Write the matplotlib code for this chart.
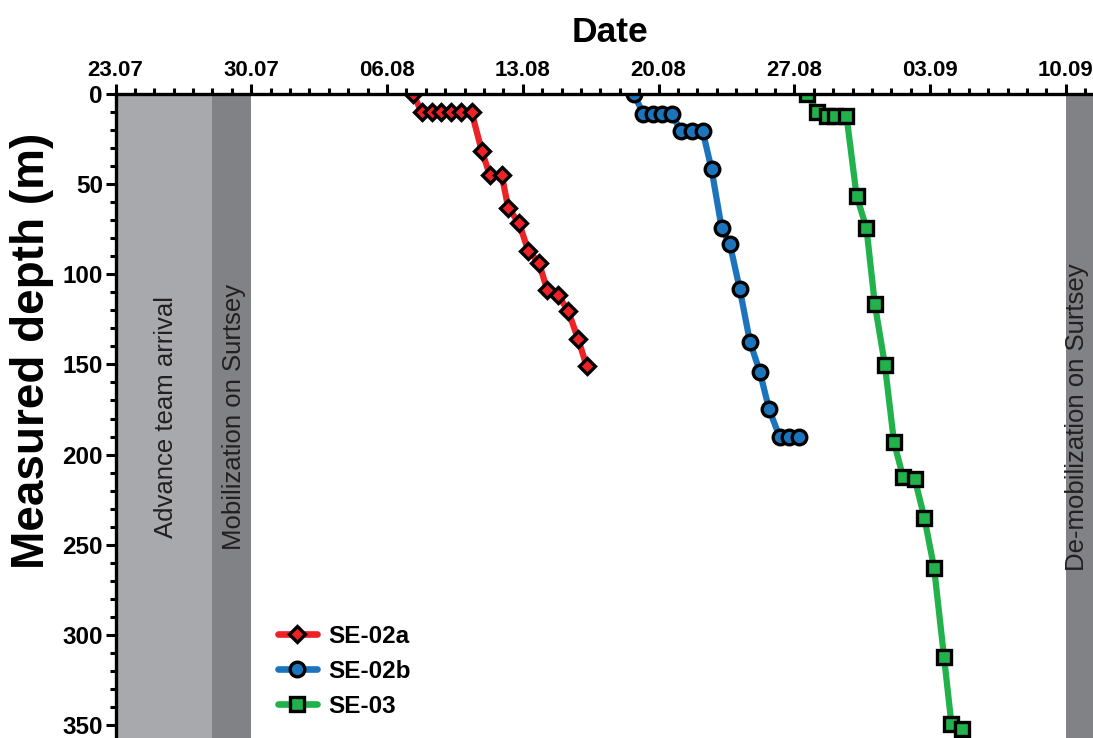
import matplotlib
matplotlib.use('Agg')
import matplotlib.pyplot as plt
from matplotlib.ticker import MultipleLocator, FixedLocator
from matplotlib.lines import Line2D

plt.rcParams['font.family'] = ['Liberation Sans', 'DejaVu Sans']

# x values are days after 23.07
tick_days = [0, 7, 14, 21, 28, 35, 42, 49]
tick_labels = ['23.07', '30.07', '06.08', '13.08', '20.08', '27.08', '03.09', '10.09']

se02a_day = [15.35, 15.78, 16.30, 16.76, 17.28, 17.81, 18.36, 18.88, 19.30, 19.91,
             20.25, 20.81, 21.28, 21.83, 22.26, 22.82, 23.34, 23.86, 24.29]
se02a_depth = [0, 10, 10, 10, 10, 10, 10, 31.4, 44.9, 44.9,
               63.1, 71.7, 86.9, 93.5, 108.7, 111.5, 120.4, 136.1, 150.9]

se02b_day = [26.73, 27.21, 27.72, 28.20, 28.67, 29.15, 29.70, 30.27, 30.73, 31.25,
             31.68, 32.19, 32.71, 33.22, 33.70, 34.25, 34.73, 35.25]
se02b_depth = [0, 11, 11, 11, 11, 20.3, 20.3, 20.3, 41.6, 74.1,
               83.4, 108.3, 137.4, 154.0, 174.9, 190.4, 190.4, 190.4]

se03_day = [35.66, 36.18, 36.66, 37.09, 37.69, 38.21, 38.72, 39.15, 39.67, 40.14,
            40.61, 41.21, 41.71, 42.21, 42.72, 43.10, 43.67]
se03_depth = [0, 9.8, 12.2, 12.2, 12.2, 56.4, 74.5, 116.5, 150.3, 193.2,
              212.6, 213.5, 235.3, 263.1, 312.4, 349.4, 352.4]

phase_labels = ['Advance team arrival', 'Mobilization on Surtsey', 'De-mobilization on Surtsey']
phase_start = [0, 5, 49]
phase_end = [5, 7, 51]
phase_label_x = [2.6, 6.1, 49.6]
phase_colors = ['#a7a9ac', '#808285', '#808285']

series = [
    ('SE-02a', se02a_day, se02a_depth, '#ec2227', 'D', 8.5),
    ('SE-02b', se02b_day, se02b_depth, '#1c75bc', 'o', 10.5),
    ('SE-03', se03_day, se03_depth, '#21b24b', 's', 10.5),
]

fig = plt.figure(figsize=(10.93, 7.38), dpi=100)
ax = fig.add_axes([115.5 / 1093, 0.0, 1 - 115.5 / 1093, 1 - 94 / 738])

for lab, s, e, lx, c in zip(phase_labels, phase_start, phase_end, phase_label_x, phase_colors):
    ax.axvspan(s, e, color=c, lw=0, zorder=0)
    ax.text(lx, 179, lab, rotation=90, ha='center', va='center',
            fontsize=18.5, color='#231f20', zorder=1, clip_on=False)

handles = []
for name, d, z, col, mk, ms in series:
    ax.plot(d, z, color=col, lw=4.5, zorder=2, solid_capstyle='round')
    ax.plot(d, z, ls='none', marker=mk, ms=ms, mfc=col, mec='black', mew=2.4, zorder=3)
    handles.append(Line2D([], [], color=col, lw=4.8, marker=mk, ms=ms, mfc=col,
                          mec='black', mew=2.4, solid_capstyle='round', label=name))

ax.set_xlim(0, 50.4)
ax.set_ylim(357.2, 0)

ax.xaxis.set_major_locator(FixedLocator(tick_days))
ax.set_xticklabels(tick_labels)
ax.xaxis.set_minor_locator(MultipleLocator(1))
ax.yaxis.set_major_locator(MultipleLocator(50))
ax.yaxis.set_minor_locator(MultipleLocator(10))

ax.xaxis.tick_top()
ax.xaxis.set_label_position('top')
for sp in ['right', 'bottom']:
    ax.spines[sp].set_visible(False)
for sp in ['top', 'left']:
    ax.spines[sp].set_linewidth(2.4)
    ax.spines[sp].set_zorder(4)

ax.tick_params(axis='both', which='major', direction='out', length=7, width=2.2, pad=2)
ax.tick_params(axis='both', which='minor', direction='out', length=4.5, width=2.2)
ax.tick_params(axis='x', which='both', top=True, bottom=False)
ax.tick_params(axis='x', which='major', labelsize=16)
ax.tick_params(axis='y', which='major', labelsize=17.5)
for lbl in ax.get_xticklabels() + ax.get_yticklabels():
    lbl.set_fontweight('bold')

ax.set_xlabel('Date', fontsize=25.5, fontweight='bold')
ax.xaxis.set_label_coords(0.506, 1.081)
ax.set_ylabel('Measured depth (m)', fontsize=33, fontweight='bold')
ax.yaxis.set_label_coords(-0.063, 0.601)

ax.legend(handles=handles, loc='upper left', bbox_to_anchor=(0.1662, 0.176),
          frameon=False, borderpad=0, borderaxespad=0, handlelength=1.6,
          handletextpad=0.45, labelspacing=0.5, prop={'weight': 'bold', 'size': 17.5})

fig.savefig('out.png', dpi=100)
